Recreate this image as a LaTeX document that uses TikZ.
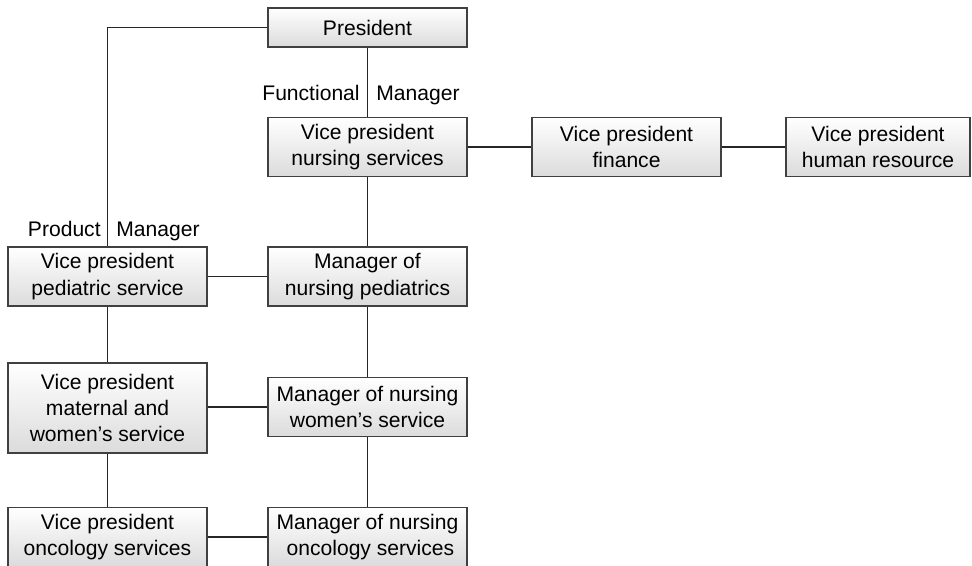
\documentclass[tikz,border=0pt]{standalone}
\usepackage{fontspec}
\setmainfont{Liberation Sans}
\usepackage{tikz}
\usepackage{xcolor}

\tikzset{
	unit/.style={draw=black!75, line width=0.85pt, top color=white, bottom color=black!14,
		minimum width=3.98cm, minimum height=1.18cm, inner sep=0pt, align=center,
		font=\fontsize{12}{15}\selectfont},
	tag/.style={inner sep=0pt, font=\fontsize{12}{15}\selectfont},
	link/.style={draw=black!85, line width=1pt}
}

\begin{document}
\begin{tikzpicture}[x=0.02cm, y=-0.02cm]
	
	\useasboundingbox (0,0) rectangle (972,565);
	
	% Draw nodes, functional side
	\node[unit, minimum height=0.78cm] (Pres) at (367.5,27.5) {President};
	\node[unit] (VPNurs) at (367.5,147) {Vice president\\nursing services};
	\node[unit, minimum width=3.78cm] (VPFin) at (626.5,147) {Vice president\\finance};
	\node[unit, minimum width=3.68cm] (VPHR) at (878,147) {Vice president\\human resource};
	\node[unit] (MgrPed) at (367.5,276.5) {Manager of\\nursing pediatrics};
	\node[unit] (MgrWom) at (367.5,407) {Manager of nursing\\women's service};
	\node[unit] (MgrOnc) at (367.5,537) {Manager of nursing\\\ oncology services};
	
	% Draw nodes, product side
	\node[unit] (VPPed) at (107.5,276.5) {Vice president\\pediatric service};
	\node[unit, minimum height=1.8cm] (VPMat) at (107.5,408) {Vice president\\maternal and\\women's service};
	\node[unit] (VPOnc) at (107.5,537) {Vice president\\oncology services};
	
	% Draw labels
	\node[tag, anchor=base east] (FunTag) at (360,100) {Functional};
	\node[tag, anchor=base west] (FunMgr) at (376,100) {Manager};
	\node[tag, anchor=base east] (ProdTag) at (101,236) {Product};
	\node[tag, anchor=base west] (ProdMgr) at (116,236) {Manager};
	
	% Draw lines, functional chain
	\draw[link] (Pres) to (VPNurs);
	\draw[link] (VPNurs) to (VPFin);
	\draw[link] (VPFin) to (VPHR);
	\draw[link] (VPNurs) to (MgrPed);
	\draw[link] (MgrPed) to (MgrWom);
	\draw[link] (MgrWom) to (MgrOnc);
	
	% Draw lines, product chain
	\draw[link] (Pres.west) -| (VPPed.north);
	\draw[link] (VPPed) to (VPMat);
	\draw[link] (VPMat) to (VPOnc);
	
	% Draw lines, across the matrix
	\draw[link] (VPPed) to (MgrPed);
	\draw[link] (VPMat.east |- MgrWom.west) to (MgrWom.west);
	\draw[link] (VPOnc) to (MgrOnc);
	
\end{tikzpicture}
\end{document}
